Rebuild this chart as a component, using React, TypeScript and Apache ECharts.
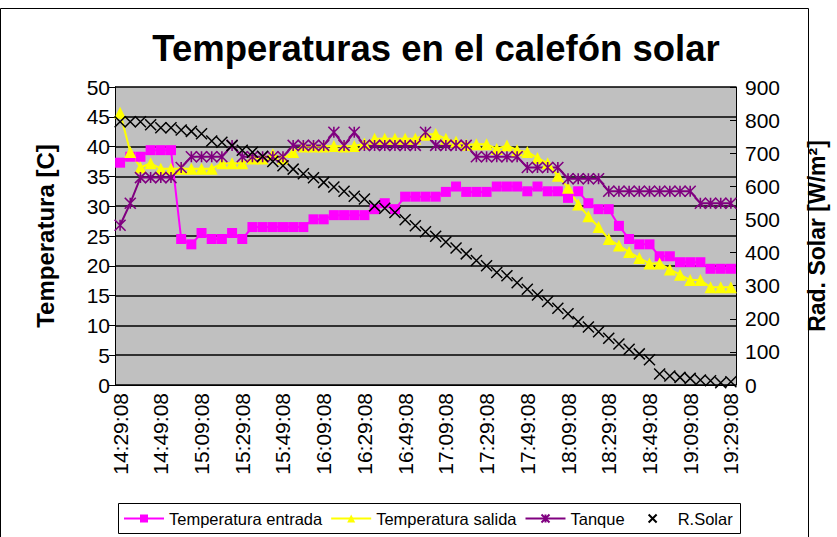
import React, { useEffect, useRef } from 'react';
import * as echarts from 'echarts';

const times = [
  '14:29:08', '14:34:08', '14:39:08', '14:44:08', '14:49:08', '14:54:08', '14:59:08',
  '15:04:08', '15:09:08', '15:14:08', '15:19:08', '15:24:08', '15:29:08', '15:34:08',
  '15:39:08', '15:44:08', '15:49:08', '15:54:08', '15:59:08', '16:04:08', '16:09:08',
  '16:14:08', '16:19:08', '16:24:08', '16:29:08', '16:34:08', '16:39:08', '16:44:08',
  '16:49:08', '16:54:08', '16:59:08', '17:04:08', '17:09:08', '17:14:08', '17:19:08',
  '17:24:08', '17:29:08', '17:34:08', '17:39:08', '17:44:08', '17:49:08', '17:54:08',
  '17:59:08', '18:04:08', '18:09:08', '18:14:08', '18:19:08', '18:24:08', '18:29:08',
  '18:34:08', '18:39:08', '18:44:08', '18:49:08', '18:54:08', '18:59:08', '19:04:08',
  '19:09:08', '19:14:08', '19:19:08', '19:24:08', '19:29:08',
];

const entrada = [
  37.3, 38.3, 38.3, 39.4, 39.4, 39.4, 24.5, 23.6, 25.5, 24.5, 24.5, 25.5, 24.5,
  26.5, 26.5, 26.5, 26.5, 26.5, 26.5, 27.8, 27.8, 28.5, 28.5, 28.5, 28.5, 29.5,
  30.5, 29.5, 31.6, 31.6, 31.6, 31.6, 32.4, 33.3, 32.4, 32.4, 32.4, 33.3, 33.3,
  33.3, 32.5, 33.3, 32.5, 32.5, 31.4, 32.5, 30.5, 29.5, 29.5, 26.7, 24.5, 23.6,
  23.6, 21.6, 21.6, 20.6, 20.6, 20.6, 19.5, 19.5, 19.5,
];

const salida = [
  45.7, 39.1, 36.5, 37.2, 36.3, 36.3, 36.3, 36.3, 36.3, 36.3, 37.2, 37.2, 37.2,
  38, 38, 38.7, 38, 39.1, 40, 40, 40, 40.1, 40, 40.1, 40.5, 41.3, 41.3, 41.3,
  41.3, 41.3, 42, 42.1, 41.3, 40.8, 40.3, 40.4, 40.4, 39.6, 40.2, 39.4, 39.1,
  38.1, 37.2, 35.1, 33.1, 30.3, 28.3, 26.5, 24.5, 23.4, 22.3, 21.3, 20.4, 20.4,
  19.4, 18.5, 17.6, 17.6, 16.4, 16.4, 16.4,
];

const tanque = [
  26.8, 30.5, 34.8, 34.8, 34.8, 34.8, 36.5, 38.3, 38.3, 38.3, 38.3, 40.2, 38.3,
  38.3, 38.3, 38.3, 38.3, 40.2, 40.2, 40.2, 40.2, 42.4, 40.2, 42.4, 40.2, 40.2,
  40.2, 40.2, 40.2, 40.2, 42.4, 40.2, 40.2, 40.2, 40.2, 38.3, 38.3, 38.3, 38.3,
  38.3, 36.5, 36.5, 36.5, 36.5, 34.6, 34.6, 34.6, 34.6, 32.5, 32.5, 32.5, 32.5,
  32.5, 32.5, 32.5, 32.5, 32.5, 30.5, 30.5, 30.5, 30.5,
];

const solar = [
  795, 795, 795, 786, 777, 777, 770, 766, 759, 737, 733, 723, 709, 703, 691, 675,
  662, 652, 638, 626, 612, 598, 585, 570, 562, 541, 534, 521, 499, 481, 463, 449,
  432, 414, 396, 376, 360, 340, 330, 309, 289, 272, 252, 232, 215, 191, 175, 161,
  141, 124, 108, 94, 76, 33, 27, 23, 20, 15, 13, 7, 10,
];

const seriesNames = ['Temperatura entrada', 'Temperatura salida', 'Tanque', 'R.Solar'];

const FONT = "'Liberation Sans', Arial, sans-serif";
const STAR = 'path://M0,0L10,10M10,0L0,10M5,0L5,10';
const CROSS = 'path://M0,0L10,10M10,0L0,10';

export default function App() {
  const ref = useRef<HTMLDivElement>(null);

  useEffect(() => {
    document.body.style.margin = '0';
    const chart = echarts.init(ref.current!, null, { renderer: 'svg' });
    const option: any = {
      animation: false,
      backgroundColor: '#ffffff',
      textStyle: { fontFamily: FONT, color: '#000' },
      title: {
        text: 'Temperaturas en el calefón solar',
        left: 431,
        top: 25,
        textAlign: 'center',
        textStyle: { fontFamily: FONT, fontSize: 36.5, fontWeight: 'bold', color: '#000' },
      },
      graphic: [
        {
          type: 'rect',
          shape: { x: 0.5, y: 8.5, width: 808, height: 540 },
          style: { fill: 'none', stroke: '#000', lineWidth: 1 },
          silent: true,
        },
        {
          type: 'rect',
          shape: { x: 118.5, y: 503.5, width: 622, height: 30 },
          style: { fill: '#fff', stroke: '#000', lineWidth: 1 },
          silent: true,
          z: -1,
        },
      ],
      legend: {
        data: seriesNames,
        left: 118,
        top: 504,
        padding: [6, 5],
        itemWidth: 40,
        itemHeight: 10,
        itemGap: 8,
        textStyle: { fontFamily: FONT, fontSize: 16.5, color: '#000' },
      },
      grid: { left: 115, top: 87, width: 621, height: 298, backgroundColor: '#c0c0c0', show: true, borderWidth: 0 },
      xAxis: {
        type: 'category',
        data: times,
        boundaryGap: true,
        axisLine: { lineStyle: { color: '#000', width: 1 } },
        axisTick: { interval: 0, length: 6, lineStyle: { color: '#000' } },
        axisLabel: {
          interval: 3,
          rotate: 90,
          margin: 8,
          fontFamily: FONT,
          fontSize: 21,
          color: '#000',
        },
        splitLine: { show: false },
      },
      yAxis: [
        {
          type: 'value',
          min: 0,
          max: 50,
          interval: 5,
          name: 'Temperatura [C]',
          nameLocation: 'middle',
          nameGap: 58,
          nameTextStyle: { fontFamily: FONT, fontSize: 24, fontWeight: 'bold', color: '#000' },
          axisLine: { show: true, lineStyle: { color: '#000', width: 1 } },
          axisTick: { show: true, length: 6, lineStyle: { color: '#000' } },
          axisLabel: { margin: 5, fontFamily: FONT, fontSize: 21, color: '#000' },
          splitLine: { show: true, lineStyle: { color: '#000', width: 1.5 } },
        },
        {
          type: 'value',
          min: 0,
          max: 900,
          interval: 100,
          position: 'right',
          name: 'Rad. Solar [W/m²]',
          nameLocation: 'middle',
          nameGap: 69,
          nameTextStyle: { fontFamily: FONT, fontSize: 23, fontWeight: 'bold', color: '#000' },
          axisLine: { show: true, lineStyle: { color: '#000', width: 1 } },
          axisTick: { show: true, inside: true, length: 6, lineStyle: { color: '#000' } },
          axisLabel: { margin: 9, fontFamily: FONT, fontSize: 21, color: '#000' },
          splitLine: { show: false },
        },
      ],
      series: [
        {
          name: seriesNames[0],
          type: 'line',
          data: entrada,
          yAxisIndex: 0,
          symbol: 'rect',
          symbolSize: 10,
          showAllSymbol: true,
          itemStyle: { color: '#ff00ff' },
          lineStyle: { color: '#ff00ff', width: 2 },
        },
        {
          name: seriesNames[1],
          type: 'line',
          data: salida,
          yAxisIndex: 0,
          symbol: 'triangle',
          symbolSize: 12,
          showAllSymbol: true,
          itemStyle: { color: '#ffff00' },
          lineStyle: { color: '#ffff00', width: 2 },
        },
        {
          name: seriesNames[2],
          type: 'line',
          data: tanque,
          yAxisIndex: 0,
          symbol: STAR,
          symbolSize: 11,
          showAllSymbol: true,
          itemStyle: { color: '#800080', borderColor: '#800080', borderWidth: 1.6 },
          lineStyle: { color: '#800080', width: 2 },
        },
        {
          name: seriesNames[3],
          type: 'line',
          data: solar,
          yAxisIndex: 1,
          symbol: CROSS,
          symbolSize: 11,
          showAllSymbol: true,
          itemStyle: { color: '#000', borderColor: '#000', borderWidth: 1.5 },
          lineStyle: { width: 0, opacity: 0 },
        },
      ],
    };
    chart.setOption(option);
    return () => chart.dispose();
  }, []);

  return <div ref={ref} style={{ width: 837, height: 537 }} />;
}
